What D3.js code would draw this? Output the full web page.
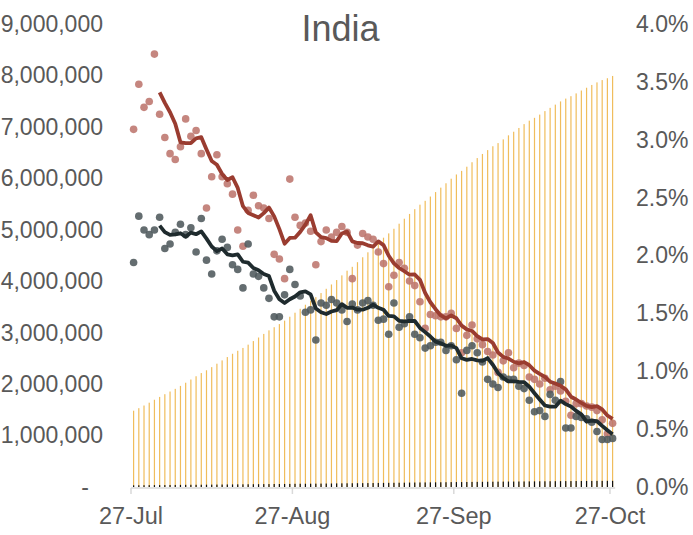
<!DOCTYPE html>
<html>
<head>
<meta charset="utf-8">
<script src="https://cdn.jsdelivr.net/npm/d3@7"></script>
<style>
  body { margin: 0; background: #fff; }
  text { font-family: "Liberation Sans", Arial, sans-serif; fill: #595959; }
</style>
</head>
<body>
<svg width="693" height="535"></svg>
<script>
// Cumulative confirmed cases (left axis), one per day from 27-Jul to 27-Oct
const cases = [
  1483000, 1532000, 1584000, 1639000, 1696000, 1751000, 1804000, 1856000, 1908000, 1965000,
  2027000, 2089000, 2153000, 2215000, 2269000, 2330000, 2397000, 2461000, 2526000, 2590000,
  2648000, 2703000, 2767000, 2837000, 2906000, 2976000, 3045000, 3106000, 3167000, 3234000,
  3310000, 3388000, 3464000, 3543000, 3621000, 3691000, 3770000, 3853000, 3937000, 4023000,
  4114000, 4205000, 4280000, 4370000, 4466000, 4562000, 4660000, 4754000, 4846000, 4930000,
  5020000, 5118000, 5215000, 5308000, 5401000, 5488000, 5563000, 5646000, 5733000, 5819000,
  5904000, 5993000, 6075000, 6145000, 6226000, 6313000, 6394000, 6474000, 6549000, 6624000,
  6685000, 6757000, 6836000, 6906000, 6979000, 7054000, 7121000, 7176000, 7239000, 7307000,
  7370000, 7433000, 7495000, 7550000, 7597000, 7651000, 7707000, 7761000, 7815000, 7865000,
  7910000, 7946000, 7990000
];

// Cumulative deaths (left axis, the tiny dark bars at the bottom)
const deaths = [
  33000, 34000, 35000, 36000, 37000, 37000, 38000, 39000, 40000, 41000,
  42000, 43000, 43000, 44000, 45000, 46000, 47000, 48000, 49000, 50000,
  51000, 52000, 53000, 54000, 55000, 56000, 57000, 58000, 58000, 59000,
  60000, 62000, 63000, 63000, 64000, 65000, 66000, 67000, 68000, 70000,
  71000, 72000, 73000, 74000, 75000, 76000, 77000, 79000, 80000, 81000,
  82000, 83000, 84000, 86000, 87000, 88000, 89000, 90000, 91000, 92000,
  93000, 95000, 96000, 96000, 97000, 99000, 100000, 101000, 102000, 103000,
  104000, 105000, 106000, 106000, 107000, 108000, 109000, 110000, 111000, 111000,
  112000, 113000, 114000, 115000, 115000, 116000, 117000, 117000, 118000, 119000,
  119000, 120000, 120000
];

// Daily growth rate of cases, % (right axis)
const caseGrowth = [
  3.09, 3.48, 3.28, 3.33, 3.74, 3.22, 3.02, 2.88, 2.83, 2.94,
  3.18, 3.03, 3.08, 2.88, 2.41, 2.68, 2.87, 2.68, 2.62, 2.53,
  2.22, 2.08, 2.39, 2.52, 2.43, 2.41, 2.32, 2.01, 1.97, 1.80,
  2.66, 2.33, 2.26, 2.28, 2.21, 1.92, 2.12, 2.22, 2.16, 2.20,
  2.25, 2.20, 1.80, 2.09, 2.19, 2.16, 2.14, 2.03, 1.93, 1.73,
  1.83, 1.94, 1.89, 1.78, 1.74, 1.60, 1.37, 1.49, 1.48, 1.47,
  1.47, 1.50, 1.37, 1.16, 1.31, 1.40, 1.28, 1.23, 1.17, 1.14,
  0.99, 1.09, 1.16, 1.03, 1.07, 1.05, 0.95, 0.93, 0.89, 0.94,
  0.84, 0.87, 0.83, 0.74, 0.62, 0.72, 0.72, 0.70, 0.69, 0.66,
  0.58, 0.46, 0.55
];

// Daily growth rate of deaths, % (right axis)
const deathGrowth = [
  1.94, 2.34, 2.22, 2.18, 2.22, 2.33, 2.06, 2.10, 2.20, 2.27,
  2.18, 2.24, 2.03, 2.32, 1.96, 1.84, 2.04, 2.14, 2.07, 1.92,
  1.88, 1.72, 2.10, 1.84, 1.82, 1.72, 1.63, 1.47, 1.47, 1.66,
  1.88, 1.75, 1.65, 1.51, 1.53, 1.27, 1.59, 1.57, 1.62, 1.59,
  1.53, 1.43, 1.58, 1.53, 1.59, 1.61, 1.57, 1.44, 1.45, 1.32,
  1.59, 1.38, 1.41, 1.47, 1.32, 1.29, 1.20, 1.22, 1.25, 1.25,
  1.18, 1.22, 1.10, 0.81, 1.18, 1.22, 1.16, 1.08, 0.93, 0.89,
  0.86, 0.95, 0.93, 0.93, 0.87, 0.85, 0.75, 0.65, 0.66, 0.61,
  0.80, 0.75, 0.91, 0.51, 0.51, 0.61, 0.60, 0.59, 0.56, 0.48,
  0.41, 0.41, 0.42
];

const leftTicks = [0, 1000000, 2000000, 3000000, 4000000, 5000000, 6000000, 7000000, 8000000, 9000000];
const rightTicks = [0, 0.5, 1, 1.5, 2, 2.5, 3, 3.5, 4];
const xTickLabels = ["27-Jul", "27-Aug", "27-Sep", "27-Oct"];
const title = "India";

const parseLabel = d3.timeParse("%d-%b-%Y");
const days = d3.timeDay.range(new Date(2020, 6, 27), new Date(2020, 9, 28));
const xTicks = xTickLabels.map(s => parseLabel(s + "-2020"));

const svg = d3.select("svg");
const y0 = 487, yTop = 24;

const x = d3.scaleBand().domain(days).range([131, 615.2]).padding(0);
const bw = x.bandwidth();
const cx = (i) => x(days[i]) + bw / 2;
const yL = d3.scaleLinear().domain([0, 9000000]).range([y0, yTop]);
const yR = d3.scaleLinear().domain([0, 4]).range([y0, yTop]);

// Title
svg.append("text")
  .attr("x", 340.5)
  .attr("y", 41)
  .attr("text-anchor", "middle")
  .attr("font-size", "36px")
  .text(title);

// Bars: cumulative cases
svg.append("g")
  .selectAll("rect")
  .data(cases)
  .join("rect")
  .attr("x", (d, i) => cx(i) - 0.6)
  .attr("width", 1.2)
  .attr("y", (d) => yL(d))
  .attr("height", (d) => y0 - yL(d))
  .attr("fill", "#f0bd5c");

// Bars: cumulative deaths
svg.append("g")
  .selectAll("rect")
  .data(deaths)
  .join("rect")
  .attr("x", (d, i) => cx(i) - 0.6)
  .attr("width", 1.2)
  .attr("y", (d) => yL(d))
  .attr("height", (d) => y0 - yL(d))
  .attr("fill", "#111");

// X axis
svg.append("line")
  .attr("x1", x.range()[0])
  .attr("x2", x.range()[1])
  .attr("y1", y0 + 1)
  .attr("y2", y0 + 1)
  .attr("stroke", "#d9d9d9")
  .attr("stroke-width", 1.5);

const xAxis = svg.append("g")
  .attr("transform", `translate(${-bw / 2},${y0 + 1})`)
  .call(d3.axisBottom(x).tickValues(xTicks).tickSize(6).tickPadding(13)
    .tickFormat((d, i) => xTickLabels[i]));
xAxis.select(".domain").remove();
xAxis.attr("font-family", null);
xAxis.selectAll("line").attr("stroke", "#d9d9d9").attr("stroke-width", 1.5);
xAxis.selectAll("text").attr("font-size", "23.5px").attr("fill", "#595959");

// Left axis
const leftAxis = svg.append("g")
  .attr("transform", "translate(103,0)")
  .call(d3.axisLeft(yL).tickValues(leftTicks).tickSize(0).tickPadding(0)
    .tickFormat((d) => (d === 0 ? "-" : d3.format(",")(d))));
leftAxis.select(".domain").remove();
leftAxis.attr("font-family", null);
leftAxis.selectAll("text").attr("font-size", "23px").attr("fill", "#595959")
  .attr("dx", (d) => (d === 0 ? -14 : 0));

// Right axis
const rightAxis = svg.append("g")
  .attr("transform", "translate(636,0)")
  .call(d3.axisRight(yR).tickValues(rightTicks).tickSize(0).tickPadding(0)
    .tickFormat((d) => d.toFixed(1) + "%"));
rightAxis.select(".domain").remove();
rightAxis.attr("font-family", null);
rightAxis.selectAll("text").attr("font-size", "23px").attr("fill", "#595959");

// Dots
function dots(values, color) {
  svg.append("g")
    .selectAll("circle")
    .data(values)
    .join("circle")
    .attr("cx", (d, i) => cx(i))
    .attr("cy", (d) => yR(d))
    .attr("r", 3.8)
    .attr("fill", color)
    .attr("fill-opacity", 0.88);
}
dots(caseGrowth, "#bd756d");
dots(deathGrowth, "#4e595c");

// Trailing moving average trendlines
function movingAvg(values, n) {
  return values.map((v, i) => (i < n ? null : d3.mean(values.slice(i - n + 1, i + 1))));
}
function trend(values, color) {
  const avg = movingAvg(values, 5);
  const line = d3.line()
    .defined((d) => d !== null)
    .x((d, i) => cx(i))
    .y((d) => yR(d));
  svg.append("path")
    .datum(avg)
    .attr("d", line)
    .attr("fill", "none")
    .attr("stroke", color)
    .attr("stroke-width", 3.8)
    .attr("stroke-linejoin", "round");
}
trend(caseGrowth, "#9a3c30");
trend(deathGrowth, "#1f2b2e");
</script>
</body>
</html>
